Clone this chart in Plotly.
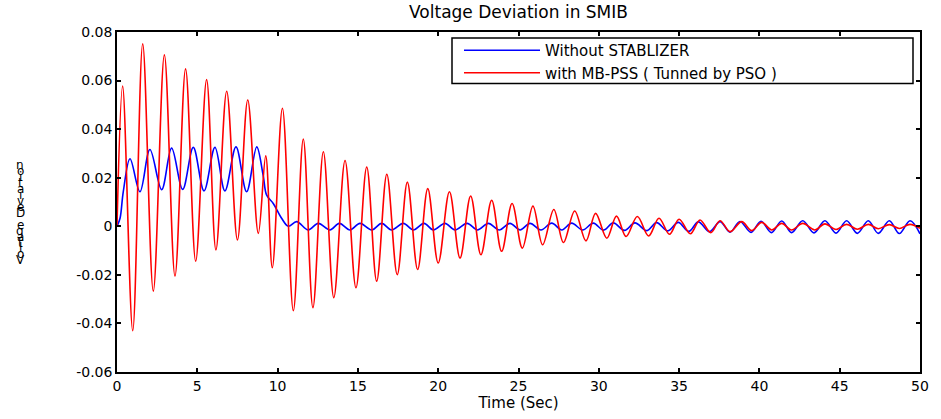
import plotly.graph_objects as go

# ---- data (extrema of each oscillation) ----
red_t = [0, 0.35, 0.98, 1.6, 2.26, 2.95, 3.61, 4.27, 4.9, 5.58, 6.16, 6.83, 7.5, 8.14, 8.8,
         9.26, 9.67, 10.3, 10.98, 11.6, 12.2, 12.85, 13.5, 14.2, 14.88, 15.55, 16.17, 16.8,
         17.45, 18.08, 18.72, 19.35, 20.0, 20.7, 21.36, 22.02, 22.66, 23.33, 23.95, 24.6,
         25.24, 25.9, 26.5, 27.2, 27.8, 28.5, 29.2, 29.8, 30.5, 31.1, 31.7, 32.4, 33.1, 33.75,
         34.4, 35.0, 35.7, 36.3, 36.97, 37.55, 38.17, 38.9, 39.52, 40.14, 40.77, 41.39, 42.0,
         42.7, 43.45, 44.08, 44.77, 45.43, 46.1, 46.78, 47.4, 48.09, 48.71, 49.38, 50.0]
red_v = [0, 0.0577, -0.043, 0.0751, -0.0267, 0.0706, -0.0205, 0.0648, -0.0144, 0.0604,
         -0.0097, 0.0556, -0.0056, 0.052, -0.0029, 0.029, -0.0171, 0.0486, -0.0348, 0.0359,
         -0.0335, 0.0307, -0.0294, 0.0271, -0.0253, 0.0244, -0.0226, 0.0214, -0.0199, 0.0182,
         -0.0178, 0.0155, -0.0151, 0.0142, -0.0131, 0.0125, -0.0117, 0.0107, -0.0103, 0.0094,
         -0.009, 0.0083, -0.0076, 0.0069, -0.0067, 0.0063, -0.006, 0.0053, -0.0049, 0.0042,
         -0.0042, 0.004, -0.004, 0.0033, -0.0033, 0.0029, -0.0031, 0.0026, -0.0026, 0.0023,
         -0.0022, 0.0019, -0.0018, 0.0016, -0.0015, 0.0012, -0.0015, 0.0012, -0.0015, 0.0010,
         -0.0013, 0.0008, -0.0012, 0.0008, -0.001, 0.0007, -0.0009, 0.0008, -0.0008]

blue_t = [0, 0.19, 0.39, 0.81, 1.43, 2.05, 2.78, 3.4, 4.09, 4.75, 5.42, 6.1, 6.72, 7.41, 8.07,
          8.7, 9.1, 9.32, 9.73, 10.25, 10.67, 11.19, 11.91, 12.53, 13.26, 13.84, 14.51, 15.13,
          15.86, 16.48, 17.1, 17.83, 18.45, 19.12, 19.7, 20.42, 21.05, 21.8, 22.45, 23.12,
          23.8, 24.47, 25.1, 25.72, 26.4, 27.07, 27.7, 28.31, 29.0, 29.66, 30.3, 30.9, 31.6,
          32.25, 33.0, 33.6, 34.3, 34.95, 35.6, 36.2, 36.9, 37.55, 38.17, 38.79, 39.48, 40.1,
          40.75, 41.39, 42.0, 42.7, 43.4, 44.08, 44.77, 45.43, 46.1, 46.78, 47.4, 48.09, 48.71,
          49.38, 50.0]
blue_v = [0, 0.0033, 0.0142, 0.0278, 0.0142, 0.0316, 0.0151, 0.0322, 0.0152, 0.0325, 0.0146,
          0.0325, 0.0146, 0.0327, 0.0142, 0.0327, 0.021, 0.0128, 0.0094, 0.0033, 0.0,
          0.0019, -0.0015, 0.0012, -0.0015, 0.0012, -0.0015, 0.0012, -0.0015, 0.0012, -0.0015,
          0.0012, -0.0015, 0.0012, -0.0015, 0.0012, -0.0015, 0.0012, -0.0015, 0.0012, -0.0015,
          0.0012, -0.0015, 0.0012, -0.0015, 0.0013, -0.0015, 0.0013, -0.0015, 0.0013, -0.0016,
          0.0014, -0.0017, 0.0014, -0.0018, 0.0015, -0.0019, 0.0016, -0.0021, 0.0018, -0.0022,
          0.0019, -0.0024, 0.002, -0.0025, 0.0021, -0.0026, 0.0022, -0.0026, 0.0023, -0.0027,
          0.0023, -0.0028, 0.0023, -0.0029, 0.0023, -0.0029, 0.0023, -0.003, 0.0023, -0.0031]

x_ticks = [0, 5, 10, 15, 20, 25, 30, 35, 40, 45, 50]
y_ticks = [-0.06, -0.04, -0.02, 0, 0.02, 0.04, 0.06, 0.08]
y_ticktext = ["-0.06", "-0.04", "-0.02", "0", "0.02", "0.04", "0.06", "0.08"]

title_text = "Voltage Deviation in SMIB"
x_title = "Time (Sec)"
y_title = "Voltage Deviation"
names = ["Without STABLIZER", "with MB-PSS ( Tunned by PSO )"]

FONT = "DejaVu Sans, Liberation Sans, Arial, sans-serif"

# pixel geometry of the plot area (layout only)
L, R, T, B = 117.0, 920.0, 32.0, 376.0
W, H = R - L, B - T


def px_x(p):
    return (p - L) / W


def px_y(p):
    return 1 - (p - T) / H


fig = go.Figure()
fig.add_trace(go.Scatter(x=blue_t, y=blue_v, mode="lines", name=names[0],
                         line=dict(color="#0000FF", width=1.6, shape="spline", smoothing=1.0)))
fig.add_trace(go.Scatter(x=red_t, y=red_v, mode="lines", name=names[1],
                         line=dict(color="#FF0000", width=1.6, shape="spline", smoothing=1.0)))

axis_common = dict(showline=True, linecolor="black", linewidth=1.5, mirror="ticks",
                   ticks="inside", ticklen=4, tickwidth=1.5, tickcolor="black",
                   showgrid=False, zeroline=False,
                   tickfont=dict(family=FONT, size=14, color="black"))

fig.update_xaxes(range=[0, 50], tickvals=x_ticks, ticktext=[str(v) for v in x_ticks],
                 title=dict(text=x_title, font=dict(family=FONT, size=15, color="black"),
                            standoff=3),
                 **axis_common)
fig.update_yaxes(range=[-0.06, 0.08], tickvals=y_ticks, ticktext=y_ticktext, **axis_common)

# stacked-letter y label (as in the reference)
letters = list(y_title)[::-1]
top_px, step_px = 167.0, 6.0
for i, ch in enumerate(letters):
    if ch == " ":
        continue
    fig.add_annotation(text=ch, xref="paper", yref="paper",
                       x=px_x(20), y=px_y(top_px + i * step_px),
                       xanchor="center", yanchor="middle", showarrow=False,
                       font=dict(family=FONT, size=12, color="black"))

# legend frame (the reference box is wider than the entries)
fig.add_shape(type="rect", xref="paper", yref="paper",
              x0=px_x(452), x1=px_x(913), y0=px_y(84), y1=px_y(38),
              line=dict(color="black", width=1.5), fillcolor="white", layer="above")

fig.update_layout(
    width=941, height=419,
    margin=dict(l=117, r=21, t=32, b=43),
    paper_bgcolor="white", plot_bgcolor="white",
    title=dict(text=title_text, x=0.5, xref="paper", xanchor="center",
               y=1 - 12 / 419, yanchor="middle",
               font=dict(family=FONT, size=17, color="black")),
    legend=dict(x=px_x(459), y=px_y(34), xanchor="left", yanchor="top",
                bgcolor="rgba(0,0,0,0)", borderwidth=0,
                font=dict(family=FONT, size=15, color="black"),
                tracegroupgap=0, itemwidth=76),
    showlegend=True,
)

fig.write_html("out.html", config={"displayModeBar": False},
               post_script="document.body.style.margin='0px';"
                           "document.body.style.overflow='hidden';"
                           "document.documentElement.style.overflow='hidden';")
